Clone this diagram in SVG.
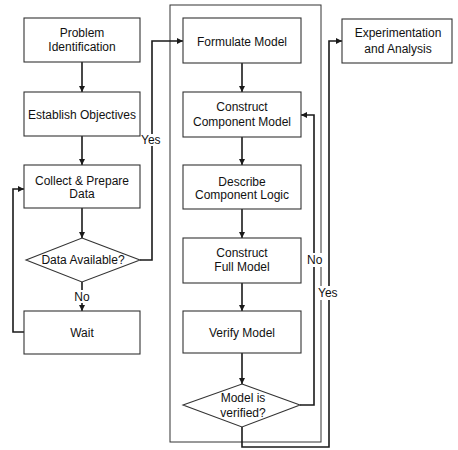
<svg xmlns="http://www.w3.org/2000/svg" width="458" height="450" viewBox="0 0 458 450">
  <defs>
    <marker id="arrow" viewBox="0 0 10 10" refX="10" refY="5" markerWidth="6" markerHeight="6" markerUnits="userSpaceOnUse" orient="auto">
      <path d="M0,0 L10,5 L0,10 z" fill="#1a1a1a"/>
    </marker>
    <style>
      .box { fill: #fff; stroke: #333; stroke-width: 1.1; }
      .frame { fill: none; stroke: #333; stroke-width: 1; }
      .conn { fill: none; stroke: #1a1a1a; stroke-width: 1.6; }
      .arr { marker-end: url(#arrow); }
      text { font-family: "Liberation Sans", Arial, sans-serif; font-size: 12px; fill: #111; text-anchor: middle; }
      .lbl { text-anchor: start; }
      .bg { fill: #fff; stroke: none; }
    </style>
  </defs>
  <rect width="458" height="450" fill="#fff"/>

  <!-- phase frame around model building -->
  <rect class="frame" x="170" y="5" width="151" height="437"/>

  <!-- connectors -->
  <g id="connectors">
    <line class="conn arr" x1="82" y1="62" x2="82" y2="92"/>
    <line class="conn arr" x1="82" y1="136" x2="82" y2="165"/>
    <line class="conn arr" x1="82" y1="208" x2="82" y2="238"/>
    <line class="conn arr" x1="82" y1="282" x2="82" y2="311"/>
    <polyline class="conn arr" points="24,332 13,332 13,189 24,189"/>
    <polyline class="conn arr" points="140,260 152,260 152,41 183,41"/>
    <line class="conn arr" x1="242" y1="63" x2="242" y2="92"/>
    <line class="conn arr" x1="242" y1="137" x2="242" y2="165"/>
    <line class="conn arr" x1="242" y1="209" x2="242" y2="238"/>
    <line class="conn arr" x1="242" y1="283" x2="242" y2="311"/>
    <line class="conn arr" x1="242" y1="353" x2="242" y2="384"/>
    <polyline class="conn arr" points="300,405 314,405 314,115 301,115"/>
    <polyline class="conn arr" points="242,427 242,447 329,447 329,41 342,41"/>
  </g>

  <!-- left column -->
  <g id="problem-identification">
    <rect class="box" x="24" y="18" width="116" height="44"/>
    <text x="82" y="37">Problem</text>
    <text x="82" y="51">Identification</text>
  </g>
  <g id="establish-objectives">
    <rect class="box" x="24" y="92" width="116" height="44"/>
    <text x="82" y="119">Establish Objectives</text>
  </g>
  <g id="collect-prepare-data">
    <rect class="box" x="24" y="165" width="116" height="43"/>
    <text x="82" y="185">Collect &amp; Prepare</text>
    <text x="82" y="198">Data</text>
  </g>
  <g id="data-available">
    <polygon class="box" points="82,238 140,260 82,282 26,260"/>
    <text x="83" y="264">Data Available?</text>
  </g>
  <g id="wait">
    <rect class="box" x="24" y="311" width="116" height="43"/>
    <text x="82" y="337">Wait</text>
  </g>

  <!-- middle column -->
  <g id="formulate-model">
    <rect class="box" x="183" y="18" width="118" height="45"/>
    <text x="242" y="46">Formulate Model</text>
  </g>
  <g id="construct-component-model">
    <rect class="box" x="183" y="92" width="118" height="45"/>
    <text x="242" y="111">Construct</text>
    <text x="242" y="126">Component Model</text>
  </g>
  <g id="describe-component-logic">
    <rect class="box" x="183" y="165" width="118" height="44"/>
    <text x="242" y="186">Describe</text>
    <text x="242" y="199">Component Logic</text>
  </g>
  <g id="construct-full-model">
    <rect class="box" x="183" y="238" width="118" height="45"/>
    <text x="242" y="257">Construct</text>
    <text x="242" y="271">Full Model</text>
  </g>
  <g id="verify-model">
    <rect class="box" x="183" y="311" width="118" height="42"/>
    <text x="242" y="337">Verify Model</text>
  </g>
  <g id="model-verified">
    <polygon class="box" points="242,384 300,405 242,427 183,405"/>
    <text x="243" y="402">Model is</text>
    <text x="243" y="417">verified?</text>
  </g>

  <!-- right column -->
  <g id="experimentation-analysis">
    <rect class="box" x="342" y="19" width="110" height="44"/>
    <text x="398" y="37">Experimentation</text>
    <text x="398" y="53">and Analysis</text>
  </g>

  <!-- branch labels -->
  <g id="labels">
    <rect class="bg" x="141" y="134" width="21" height="12"/>
    <text class="lbl" x="141" y="144">Yes</text>
    <rect class="bg" x="74" y="290" width="17" height="13"/>
    <text x="82" y="301">No</text>
    <rect class="bg" x="306" y="253" width="17" height="14"/>
    <text class="lbl" x="307" y="264">No</text>
    <rect class="bg" x="317" y="286" width="23" height="14"/>
    <text class="lbl" x="318" y="297">Yes</text>
  </g>
</svg>
